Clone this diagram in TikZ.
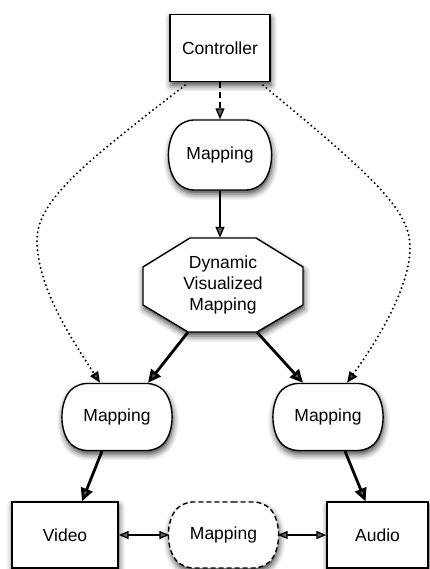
\documentclass[tikz,border=0pt]{standalone}
\usepackage{fontspec}
\setmainfont{Liberation Sans}
\usetikzlibrary{arrows.meta,calc,shapes.misc,shadows.blur}

\begin{document}
\begin{tikzpicture}[x=1pt,y=1pt,
  every node/.style={font=\fontsize{17.5}{21}\selectfont},
  shade/.style={blur shadow={shadow xshift=1pt,shadow yshift=-4pt,shadow blur radius=6pt,shadow opacity=75}},
  box/.style={draw,line width=1.4pt,fill=white,shade,minimum width=#1,minimum height=66,inner sep=0pt},
  mapbox/.style={draw,line width=1.4pt,fill=white,shade,rounded rectangle,rounded rectangle arc length=90,
                 rounded corners=9pt,minimum width=107,minimum height=67,inner sep=0pt},
  thin/.style={line width=1.3pt,-{Triangle[length=11pt,width=9pt]}},
  thick/.style={line width=2.8pt,-{Triangle[length=13pt,width=12pt]}},
  both/.style={line width=1.3pt,{Triangle[length=10pt,width=8pt]}-{Triangle[length=10pt,width=8pt]}},
  dotline/.style={line width=2.2pt,line cap=round,dash pattern=on 0pt off 4.5pt,
                  -{Triangle[length=11pt,width=9pt]}},
]
\useasboundingbox (0,0) rectangle (429,569);

% top of the chain
\node[box=100,minimum height=67] (ctrl) at (220,521) {Controller};
\node[mapbox,minimum width=100,minimum height=70] (map1) at (220,414) {Mapping};

% octagon holding the visualized mapping
\node[minimum width=160,minimum height=94,inner sep=0pt] (dvm) at (223,284) {};
\draw[line width=1.4pt,fill=white,shade]
  ($(dvm.center)+(-33,47)$) -- ($(dvm.center)+(33,47)$) -- ($(dvm.center)+(80,18)$) --
  ($(dvm.center)+(80,-20)$) -- ($(dvm.center)+(34,-47)$) -- ($(dvm.center)+(-35,-47)$) --
  ($(dvm.center)+(-80,-20)$) -- ($(dvm.center)+(-80,18)$) -- cycle;
\node[align=center] at (dvm.center) {Dynamic\\Visualized\\Mapping};

% second row
\node[mapbox] (lmap) at (117,152) {Mapping};
\node[mapbox] (rmap) at (328,152) {Mapping};

% bottom row
\node[box=106] (video) at (65,34) {Video};
\node[mapbox,dash pattern=on 5pt off 3pt,minimum height=66] (bmap) at (223.5,34) {Mapping};
\node[box=101] (audio) at (377.5,34) {Audio};

% connectors
\draw[thin,dash pattern=on 6pt off 4pt] (ctrl.south) -- (map1.north);
\draw[thin] (map1.south) -- (map1.south |- dvm.north);
\draw[thick] ($(dvm.south)+(-35,0)$) -- ($(lmap.north)+(31,0)$);
\draw[thick] ($(dvm.south)+(34,0)$) -- ($(rmap.north)+(-25,0)$);
\draw[thick] ($(lmap.south)+(-15,0)$) -- ($(video.north)+(17,0)$);
\draw[thick] ($(rmap.south)+(17,0)$) -- ($(audio.north)+(-12,0)$);
\draw[both] (video.east) -- (bmap.west);
\draw[both] (bmap.east) -- (audio.west);

% dotted control links
\draw[dotline] ($(ctrl.south)+(-35,-3)$) .. controls (90,410) and (37,370) .. (37,329)
  .. controls (37,280) and (75,225) .. ($(lmap.north)+(-17,0)$);
\draw[dotline] ($(ctrl.south)+(43,-3)$) .. controls (370,395) and (410,360) .. (410,322)
  .. controls (410,280) and (375,225) .. ($(rmap.north)+(19,0)$);
\end{tikzpicture}
\end{document}
